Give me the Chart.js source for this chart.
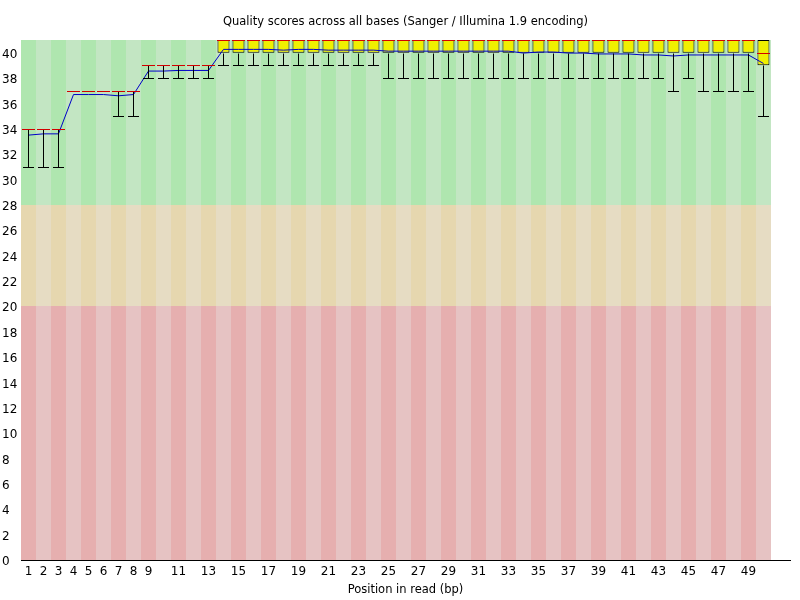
<!DOCTYPE html>
<html>
<head>
<meta charset="utf-8">
<script src="https://cdn.jsdelivr.net/npm/chart.js@4/dist/chart.umd.min.js"></script>
<style>
    body { margin: 0; background: #fff; }
    #wrap { width: 800px; height: 600px; }
</style>
</head>
<body>
<div id="wrap"><canvas id="qualityChart"></canvas></div>
<script>
// position in read (bp)
const positions = [1,2,3,4,5,6,7,8,9,10,11,12,13,14,15,16,17,18,19,20,21,22,23,24,25,
    26,27,28,29,30,31,32,33,34,35,36,37,38,39,40,41,42,43,44,45,46,47,48,49,50];
const xTicks = [1,2,3,4,5,6,7,8,9,11,13,15,17,19,21,23,25,27,29,31,33,35,37,39,41,43,45,47,49];
const yTicks = [0,2,4,6,8,10,12,14,16,18,20,22,24,26,28,30,32,34,36,38,40];

const meanQ = [33.5,33.6,33.6,36.7,36.7,36.7,36.6,36.7,38.55,38.55,38.6,38.6,38.6,
    40.26,40.26,40.26,40.26,40.2,40.26,40.26,40.2,40.2,40.2,40.2,
    40.12,40.12,40.12,40.12,40.12,40.12,40.12,40.12,40.12,
    39.97,40.05,40.05,39.97,39.97,39.9,39.9,39.9,39.82,39.82,39.74,
    39.82,39.82,39.82,39.82,39.82,39.15];
const medianQ = [34,34,34,37,37,37,37,37,39,39,39,39,39,
    41,41,41,41,41,41,41,41,41,41,41,
    41,41,41,41,41,41,41,41,41,41,41,41,41,41,41,41,41,41,41,41,41,41,41,41,41,40];
const lowerQ = [34,34,34,37,37,37,37,37,39,39,39,39,39,
    40,40,40,40,40,40,40,40,40,40,40,
    40,40,40,40,40,40,40,40,40,40,40,40,40,40,40,40,40,40,40,40,40,40,40,40,40,39];
const upperQ = [34,34,34,37,37,37,37,37,39,39,39,39,39,
    41,41,41,41,41,41,41,41,41,41,41,
    41,41,41,41,41,41,41,41,41,41,41,41,41,41,41,41,41,41,41,41,41,41,41,41,41,41];
const p10 = [31,31,31,37,37,37,35,35,38,38,38,38,38,
    39,39,39,39,39,39,39,39,39,39,39,
    38,38,38,38,38,38,38,38,38,38,38,38,38,38,38,38,38,38,38,37,38,37,37,37,37,35];
const p90 = [34,34,34,37,37,37,37,37,39,39,39,39,39,
    41,41,41,41,41,41,41,41,41,41,41,
    41,41,41,41,41,41,41,41,41,41,41,41,41,41,41,41,41,41,41,41,41,41,41,41,41,41];

// quality zones: [from, to, light, dark]
const zones = [
    [28, 41, 'rgb(195,230,195)', 'rgb(175,230,175)'],
    [20, 28, 'rgb(230,220,195)', 'rgb(230,215,175)'],
    [0, 20, 'rgb(230,195,195)', 'rgb(230,175,175)']
];

const FONT = 'DejaVu Sans, Verdana, sans-serif';
Chart.defaults.color = '#000';
Chart.defaults.font.family = FONT;

const stripes = {
    id: 'stripes',
    beforeDatasetsDraw(chart) {
        const { ctx, chartArea, scales: { x, y } } = chart;
        ctx.save();
        ctx.beginPath();
        ctx.rect(chartArea.left, chartArea.top, chartArea.right - chartArea.left, chartArea.bottom - chartArea.top);
        ctx.clip();
        positions.forEach((p, i) => {
            const x0 = Math.round(x.getPixelForValue(p - 0.5));
            const x1 = Math.round(x.getPixelForValue(p + 0.5));
            zones.forEach(z => {
                const y0 = Math.round(y.getPixelForValue(z[1]));
                const y1 = Math.round(y.getPixelForValue(z[0]));
                ctx.fillStyle = i % 2 === 0 ? z[3] : z[2];
                ctx.fillRect(x0, y0, x1 - x0, y1 - y0);
            });
        });
        ctx.restore();
    }
};

// 10th-90th percentile whiskers and the median tick
const whiskers = {
    id: 'whiskers',
    afterDatasetsDraw(chart) {
        const { ctx, scales: { x, y } } = chart;
        const px = v => Math.round(y.getPixelForValue(v)) + 0.5;
        ctx.save();
        ctx.lineWidth = 1;
        positions.forEach((p, i) => {
            const cx = Math.round(x.getPixelForValue(p)) + 0.5;
            ctx.strokeStyle = '#000';
            ctx.beginPath();
            if (p10[i] < lowerQ[i]) {
                ctx.moveTo(cx, px(p10[i])); ctx.lineTo(cx, px(lowerQ[i]));
                ctx.moveTo(cx - 5.5, px(p10[i])); ctx.lineTo(cx + 5.5, px(p10[i]));
            }
            if (p90[i] > upperQ[i]) {
                ctx.moveTo(cx, px(upperQ[i])); ctx.lineTo(cx, px(p90[i]));
                ctx.moveTo(cx - 5.5, px(p90[i])); ctx.lineTo(cx + 5.5, px(p90[i]));
            }
            ctx.stroke();

            ctx.strokeStyle = 'rgb(210,0,0)';
            ctx.beginPath();
            ctx.moveTo(cx - 6.5, px(medianQ[i])); ctx.lineTo(cx + 6.5, px(medianQ[i]));
            ctx.stroke();
        });
        ctx.restore();
    }
};

// only positions with a real inter-quartile range get a box
const boxData = positions
    .map((p, i) => ({ x: p, y: [lowerQ[i], upperQ[i]] }))
    .filter(d => d.y[0] !== d.y[1]);
const meanData = positions.map((p, i) => ({ x: p, y: meanQ[i] }));

new Chart(document.getElementById('qualityChart'), {
    type: 'bar',
    data: {
        datasets: [
            {
                type: 'line',
                label: 'Mean',
                data: meanData,
                borderColor: 'rgb(0,0,200)',
                borderWidth: 1,
                pointRadius: 0,
                tension: 0,
                order: 0
            },
            {
                type: 'bar',
                label: 'Inter-quartile range',
                data: boxData,
                backgroundColor: 'rgb(240,240,0)',
                borderColor: '#000',
                borderWidth: 1,
                borderSkipped: false,
                barPercentage: 0.8,
                categoryPercentage: 1.0,
                order: 1
            }
        ]
    },
    options: {
        responsive: true,
        maintainAspectRatio: false,
        animation: false,
        layout: { padding: { left: 2, right: 10, top: 0, bottom: 0 } },
        plugins: {
            legend: { display: false },
            tooltip: { enabled: false },
            title: {
                display: true,
                fullSize: false,
                text: 'Quality scores across all bases (Sanger / Illumina 1.9 encoding)',
                font: { size: 11.5, weight: 'normal', family: FONT, lineHeight: 1.2 },
                padding: { top: 15, bottom: 11.2 }
            }
        },
        scales: {
            x: {
                type: 'linear',
                offset: false,
                min: 0.5,
                max: 51.77,
                grid: { display: false },
                border: { display: true, color: '#000', width: 1 },
                afterBuildTicks: s => { s.ticks = xTicks.map(v => ({ value: v })); },
                afterFit: s => { s.height = 40; },
                ticks: { font: { size: 12 }, padding: -3, maxRotation: 0, autoSkip: false },
                title: {
                    display: true,
                    text: 'Position in read (bp)',
                    font: { size: 11.5 },
                    padding: { top: 0, bottom: 3 }
                }
            },
            y: {
                min: 0,
                max: 41,
                grid: { display: false },
                border: { display: true, color: '#000', width: 1 },
                afterBuildTicks: s => { s.ticks = yTicks.map(v => ({ value: v })); },
                afterFit: s => { s.width = 19; },
                ticks: { font: { size: 12 }, crossAlign: 'far', labelOffset: 2 }
            }
        }
    },
    plugins: [stripes, whiskers]
});
</script>
</body>
</html>
